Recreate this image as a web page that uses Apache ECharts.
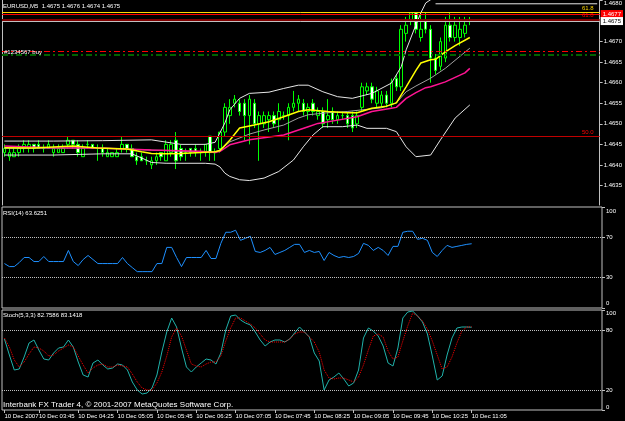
<!DOCTYPE html>
<html>
<head>
<meta charset="utf-8">
<script src="https://cdn.jsdelivr.net/npm/echarts@6/dist/echarts.min.js"></script>
<style>
html, body { margin: 0; padding: 0; background: #000; }
#chart { width: 625px; height: 421px; }
</style>
</head>
<body>
<div id="chart"></div>
<script>
"use strict";

var FONT = '"Liberation Sans", Arial, sans-serif';
var FS = 6;
var SLOTS = 122; // 96 bars + empty shift on the right

var tickIndex = [0, 7, 15, 23, 31, 39, 47, 55, 63, 71, 79, 87, 95];
var tickLabels = ['10 Dec 2007', '10 Dec 03:45', '10 Dec 04:25', '10 Dec 05:05', '10 Dec 05:45', '10 Dec 06:25',
	'10 Dec 07:05', '10 Dec 07:45', '10 Dec 08:25', '10 Dec 09:05', '10 Dec 09:45', '10 Dec 10:25', '10 Dec 11:05'];

var priceTicks = [1.4635, 1.4640, 1.4645, 1.4650, 1.4655, 1.4660, 1.4665, 1.4670, 1.4680];
var rsiTicks = [0, 30, 70, 100];
var stochTicks = [0, 20, 80, 100];

// [open, close, low, high]
var candles = [
	[1.4643, 1.4644, 1.4642, 1.4645], [1.4642, 1.4643, 1.4641, 1.4644], [1.4642, 1.4643, 1.4642, 1.4644], [1.4643, 1.4644, 1.4642, 1.4645],
	[1.4644, 1.4645, 1.4643, 1.4646], [1.4644, 1.4645, 1.4643, 1.4646], [1.4645, 1.4644, 1.4643, 1.4645], [1.4645, 1.4644, 1.4644, 1.4646],
	[1.4644, 1.4644, 1.4643, 1.4645], [1.4644, 1.4645, 1.4644, 1.4646], [1.4643, 1.4644, 1.4642, 1.4645], [1.4643, 1.4644, 1.4643, 1.4645],
	[1.4643, 1.4644, 1.4643, 1.4645], [1.4645, 1.4646, 1.4644, 1.4647], [1.4646, 1.4645, 1.4644, 1.4646], [1.4645, 1.4643, 1.4642, 1.4646],
	[1.4642, 1.4644, 1.4642, 1.4645], [1.4645, 1.4645, 1.4644, 1.4646], [1.4645, 1.4644, 1.4644, 1.4645], [1.4644, 1.4644, 1.4641, 1.4645],
	[1.4644, 1.4643, 1.4642, 1.4645], [1.4642, 1.4643, 1.4642, 1.4644], [1.4642, 1.4643, 1.4642, 1.4643], [1.4642, 1.4643, 1.4642, 1.4644],
	[1.4644, 1.4645, 1.4643, 1.4647], [1.4645, 1.4644, 1.4643, 1.4645], [1.4644, 1.4642, 1.4642, 1.4645], [1.4642, 1.4641, 1.4640, 1.4643],
	[1.4642, 1.4641, 1.4641, 1.4643], [1.4641, 1.4641, 1.4640, 1.4642], [1.4640, 1.4641, 1.4639, 1.4642], [1.4641, 1.4642, 1.4640, 1.4643],
	[1.4643, 1.4642, 1.4641, 1.4643], [1.4641, 1.4645, 1.4641, 1.4646], [1.4643, 1.4645, 1.4642, 1.4646], [1.4646, 1.4641, 1.4639, 1.4648],
	[1.4644, 1.4642, 1.4641, 1.4645], [1.4643, 1.4643, 1.4641, 1.4644], [1.4644, 1.4643, 1.4642, 1.4644], [1.4644, 1.4643, 1.4642, 1.4645],
	[1.4643, 1.4643, 1.4641, 1.4644], [1.4643, 1.4645, 1.4642, 1.4645], [1.4647, 1.4643, 1.4641, 1.4647], [1.4643, 1.4643, 1.4641, 1.4644],
	[1.4644, 1.4648, 1.4643, 1.4648], [1.4648, 1.4654, 1.4647, 1.4655], [1.4652, 1.4654, 1.4650, 1.4656], [1.4655, 1.4656, 1.4654, 1.4657],
	[1.4655, 1.4653, 1.4652, 1.4656], [1.4655, 1.4652, 1.4646, 1.4656], [1.4652, 1.4656, 1.4645, 1.4657], [1.4655, 1.4650, 1.4649, 1.4656],
	[1.4650, 1.4652, 1.4641, 1.4653], [1.4650, 1.4652, 1.4649, 1.4653], [1.4651, 1.4652, 1.4648, 1.4653], [1.4652, 1.4650, 1.4649, 1.4653],
	[1.4651, 1.4653, 1.4648, 1.4655], [1.4652, 1.4652, 1.4651, 1.4653], [1.4652, 1.4654, 1.4646, 1.4655], [1.4654, 1.4655, 1.4653, 1.4658],
	[1.4655, 1.4656, 1.4653, 1.4657], [1.4655, 1.4653, 1.4652, 1.4656], [1.4653, 1.4654, 1.4651, 1.4655], [1.4655, 1.4653, 1.4652, 1.4656],
	[1.4652, 1.4653, 1.4651, 1.4654], [1.4653, 1.4650, 1.4649, 1.4654], [1.4651, 1.4652, 1.4649, 1.4656], [1.4653, 1.4651, 1.4650, 1.4654],
	[1.4651, 1.4652, 1.4650, 1.4653], [1.4652, 1.4652, 1.4651, 1.4653], [1.4652, 1.4650, 1.4649, 1.4653], [1.4652, 1.4649, 1.4648, 1.4653],
	[1.4650, 1.4652, 1.4649, 1.4653], [1.4654, 1.4659, 1.4653, 1.4660], [1.4658, 1.4659, 1.4657, 1.4660], [1.4659, 1.4656, 1.4655, 1.4660],
	[1.4655, 1.4658, 1.4654, 1.4659], [1.4655, 1.4657, 1.4654, 1.4658], [1.4657, 1.4655, 1.4654, 1.4658], [1.4655, 1.4660, 1.4654, 1.4661],
	[1.4661, 1.4659, 1.4658, 1.4662], [1.4659, 1.4673, 1.4658, 1.4674], [1.4672, 1.4674, 1.4670, 1.4676], [1.4675, 1.4677, 1.4674, 1.4677],
	[1.4677, 1.4673, 1.4672, 1.4677], [1.4671, 1.4673, 1.4670, 1.4677], [1.4675, 1.4673, 1.4672, 1.4677], [1.4673, 1.4666, 1.4660, 1.4674],
	[1.4666, 1.4663, 1.4662, 1.4667], [1.4664, 1.4670, 1.4663, 1.4671], [1.4666, 1.4674, 1.4665, 1.4676], [1.4674, 1.4671, 1.4670, 1.4677],
	[1.4671, 1.4674, 1.4670, 1.4676], [1.4671, 1.4673, 1.4669, 1.4676], [1.4672, 1.4674, 1.4671, 1.4676], [1.4675, 1.4675, 1.4674, 1.4676]
];

// indicator readings: [bar index, price]
var maYellow = [[0, 1.46442], [6, 1.46441], [14, 1.46446], [19, 1.46441], [25, 1.46439], [28, 1.46432], [30, 1.46428], [33, 1.46427],
	[36, 1.46428], [40, 1.46430], [43, 1.46432], [44, 1.46435], [46, 1.46460], [48, 1.46490], [51, 1.46497], [54, 1.46505], [57, 1.46517],
	[60, 1.46530], [62, 1.46534], [66, 1.46530], [70, 1.46527], [72, 1.46527], [75, 1.46538], [78, 1.46543], [80, 1.46551], [82, 1.46590],
	[84, 1.46630], [85, 1.46648], [87, 1.46656], [88, 1.46657], [90, 1.46675], [92, 1.46690], [95, 1.46710]];
var maPink = [[0, 1.46446], [9, 1.46442], [19, 1.46441], [26, 1.46438], [30, 1.46436], [40, 1.46433], [43, 1.46430], [44, 1.46433],
	[46, 1.46449], [50, 1.46461], [57, 1.46473], [62, 1.46493], [64, 1.46501], [68, 1.46509], [72, 1.46517], [75, 1.46530], [79, 1.46538],
	[80, 1.46540], [82, 1.46562], [84, 1.46576], [86, 1.46588], [87, 1.46590], [90, 1.46602], [94, 1.46624], [95, 1.46635]];
var bbMid = [[0, 1.46440], [10, 1.46441], [20, 1.46441], [30, 1.46436], [40, 1.46432], [43, 1.46432], [44, 1.46436], [46, 1.46456],
	[50, 1.46475], [53, 1.46485], [57, 1.46497], [60, 1.46514], [62, 1.46522], [66, 1.46527], [70, 1.46530], [73, 1.46534], [77, 1.46539],
	[80, 1.46551], [82, 1.46578], [84, 1.46592], [87, 1.46611], [90, 1.46635], [95, 1.46684]];
var bbUpper = [[0, 1.46458], [10, 1.46458], [20, 1.46459], [30, 1.46461], [36, 1.46450], [41, 1.46450], [43, 1.46455], [45, 1.46502],
	[46, 1.46534], [48, 1.46562], [50, 1.46574], [54, 1.46577], [57, 1.46586], [60, 1.46594], [62, 1.46594], [65, 1.46578], [68, 1.46566],
	[71, 1.46562], [75, 1.46574], [79, 1.46599], [81, 1.46639], [82, 1.46680], [84, 1.46741], [85, 1.46770], [86, 1.46794], [88, 1.4681],
	[90, 1.4683], [95, 1.4684]];
var bbLower = [[0, 1.46424], [10, 1.46424], [20, 1.46427], [26, 1.46427], [28, 1.46417], [30, 1.46406], [33, 1.46404], [41, 1.46404],
	[43, 1.46402], [44, 1.46395], [45, 1.46380], [46, 1.46372], [48, 1.46364], [50, 1.46362], [53, 1.46368], [56, 1.46384], [59, 1.46412],
	[61, 1.46444], [63, 1.46473], [65, 1.46493], [69, 1.46493], [72, 1.46497], [74, 1.46489], [78, 1.46489], [80, 1.46481], [82, 1.46444],
	[84, 1.46420], [87, 1.46424], [89, 1.46461], [92, 1.46514], [95, 1.46546]];

var rsi = [44, 41, 41, 45, 50, 50, 46, 46, 51, 46, 46, 46, 46, 57, 46, 42, 48, 52, 48, 44, 44, 44, 44, 44, 50, 44, 40, 36, 36, 36,
	36, 44, 44, 60, 60, 50, 41, 50, 50, 50, 50, 57, 49, 49, 64, 75, 75, 77, 67, 69, 71, 56, 55, 57, 60, 53, 55, 57, 60, 63,
	63, 55, 57, 55, 56, 47, 55, 52, 50, 51, 50, 51, 54, 64, 62, 57, 60, 57, 52, 61, 61, 75, 76, 76, 68, 69, 67, 55, 51, 57,
	62, 60, 61, 62, 63, 63.6251];
var stochK = [71, 55, 40, 41, 53, 67, 70, 60, 51, 50, 57, 62, 63, 70, 63, 48, 35, 33, 47, 50, 45, 41, 42, 46, 45, 40, 28, 20, 16, 17,
	22, 35, 58, 78, 92, 83, 62, 43, 38, 43, 47, 51, 50, 46, 57, 80, 94, 95, 90, 87, 85, 78, 70, 64, 68, 70, 70, 68, 71, 77,
	83, 78, 73, 57, 49, 20, 30, 33, 37, 31, 24, 27, 40, 72, 82, 79, 74, 64, 47, 44, 62, 92, 98, 99, 94, 88, 76, 54, 30, 34,
	55, 72, 82, 83, 83, 82.7586];
var stochD = [72, 63, 50, 43, 48, 56, 63, 62, 59, 54, 55, 59, 62, 65, 63, 54, 45, 37, 42, 45, 46, 43, 43, 45, 44, 43, 36, 28, 22, 20,
	20, 27, 38, 54, 73, 82, 74, 60, 46, 44, 43, 46, 48, 48, 54, 69, 82, 92, 92, 89, 86, 82, 76, 70, 68, 68, 68, 68, 71, 76,
	78, 78, 73, 68, 58, 40, 32, 31, 32, 32, 30, 28, 33, 45, 60, 74, 76, 73, 59, 51, 53, 69, 84, 97, 94, 89, 81, 69, 55, 41,
	43, 53, 67, 79, 83, 83.1418];

// horizontal objects on the price panel
var levelTop = [[88, 1.46792], [121, 1.46792]];
var fibYellow = 1.46771;
var alertRed = 1.46767;
var fibDarkRed = 1.46754;
var bidPrice = 1.4675;
var orderRed = 1.46676;
var orderGreen = 1.46667;
var fib50 = 1.4647;

var categories = [];
for (var i = 0; i < SLOTS; i++) categories.push(String(i));

function lineSeries(name, data, color, width) {
	return {
		name: name, type: 'line', data: data, xAxisIndex: 0, yAxisIndex: 0,
		showSymbol: false, silent: true, z: 3,
		lineStyle: { color: color, width: width || 1 }
	};
}

function hLine(value, color, width, type, label) {
	return {
		yAxis: value,
		lineStyle: { color: color, width: width, type: type || 'solid' },
		label: label || { show: false }
	};
}

function levelLabel(text, color) {
	return { show: true, position: 'insideEndTop', distance: [6, 1], formatter: text, color: color, fontSize: FS, fontFamily: FONT };
}

function edgeRich(shiftDown, shiftUp) {
	return {
		dn: { padding: [shiftDown * 2, 0, 0, 0], color: '#ffffff', fontSize: FS, fontFamily: FONT },
		up: { padding: [0, 0, shiftUp * 2, 0], color: '#ffffff', fontSize: FS, fontFamily: FONT }
	};
}

function oscLabel(ticks, shiftDown, shiftUp) {
	return {
		customValues: ticks, margin: 4, color: '#ffffff', fontSize: FS, fontFamily: FONT,
		rich: edgeRich(shiftDown, shiftUp),
		formatter: function(v) {
			if (v === 100) return '{dn|100}';
			if (v === 0) return '{up|0}';
			return String(v);
		}
	};
}

var textBase = { color: '#ffffff', fontSize: FS, fontWeight: 'normal', fontFamily: FONT };

var chart = echarts.init(document.getElementById('chart'), null, { renderer: 'canvas' });

chart.setOption({
	backgroundColor: '#000000',
	animation: false,
	textStyle: { fontFamily: FONT },
	title: [
		{ text: 'EURUSD,M5  1.4675 1.4676 1.4674 1.4675', left: 3, top: 3, padding: 0, textStyle: textBase },
		{ text: 'RSI(14) 63.6251', left: 3, top: 210, padding: 0, textStyle: textBase },
		{ text: 'Stoch(5,3,3) 82.7586 83.1418', left: 3, top: 312, padding: 0, textStyle: textBase },
		{ text: 'Interbank FX Trader 4, \u00a9 2001-2007 MetaQuotes Software Corp.', left: 3, top: 401, padding: 0,
			textStyle: { color: '#ffffff', fontSize: 8, fontWeight: 'normal', fontFamily: FONT } }
	],
	grid: [
		{ left: 2, right: 23, top: 0, height: 205 },
		{ left: 2, right: 23, top: 207, height: 101, show: true, borderColor: '#c0c0c0', borderWidth: 1 },
		{ left: 2, right: 23, top: 310, height: 100, show: true, borderColor: '#c0c0c0', borderWidth: 1 }
	],
	xAxis: [
		{ type: 'category', gridIndex: 0, data: categories, show: false },
		{ type: 'category', gridIndex: 1, data: categories, show: false },
		{
			type: 'category', gridIndex: 2, data: categories,
			axisLine: { show: false },
			axisTick: {
				show: true, length: 3, alignWithLabel: true,
				interval: function(index) { return tickIndex.indexOf(index) >= 0; },
				lineStyle: { color: '#c0c0c0' }
			},
			axisLabel: {
				interval: function(index) { return tickIndex.indexOf(index) >= 0; },
				formatter: function(value) { return tickLabels[tickIndex.indexOf(Number(value))] || ''; },
				showMinLabel: true, showMaxLabel: true, hideOverlap: false,
				align: 'left', margin: 3, color: '#ffffff', fontSize: FS, fontFamily: FONT
			},
			splitLine: { show: false }
		}
	],
	yAxis: [
		{
			type: 'value', gridIndex: 0, position: 'right', min: 1.463025, max: 1.468009,
			axisLine: { show: true, lineStyle: { color: '#c0c0c0' } },
			axisTick: { show: true, length: 3, customValues: priceTicks, lineStyle: { color: '#c0c0c0' } },
			axisLabel: {
				customValues: priceTicks, margin: 4, color: '#ffffff', fontSize: FS, fontFamily: FONT,
				showMinLabel: true, showMaxLabel: true,
				rich: edgeRich(2.5, 0),
				formatter: function(v) { return v > 1.4679 ? '{dn|' + v.toFixed(4) + '}' : v.toFixed(4); }
			},
			splitLine: { show: false }
		},
		{
			type: 'value', gridIndex: 0, position: 'left', min: 1.463025, max: 1.468009,
			axisLine: { show: true, lineStyle: { color: '#c0c0c0' } },
			axisTick: { show: false }, axisLabel: { show: false }, splitLine: { show: false }
		},
		{
			type: 'value', gridIndex: 1, position: 'right', min: 0, max: 100,
			axisLine: { show: false },
			axisTick: { show: true, length: 3, customValues: rsiTicks, lineStyle: { color: '#c0c0c0' } },
			axisLabel: oscLabel(rsiTicks, 4, 4.5),
			splitLine: { show: false }
		},
		{
			type: 'value', gridIndex: 2, position: 'right', min: 0, max: 100,
			axisLine: { show: false },
			axisTick: { show: true, length: 3, customValues: stochTicks, lineStyle: { color: '#c0c0c0' } },
			axisLabel: oscLabel(stochTicks, 3, 3),
			splitLine: { show: false }
		}
	],
	series: [
		{
			name: 'EURUSD', type: 'candlestick', data: candles, xAxisIndex: 0, yAxisIndex: 0,
			barWidth: 3, silent: true, z: 2,
			itemStyle: { color: '#000000', color0: '#ffffff', borderColor: '#00ff00', borderColor0: '#00ff00', borderWidth: 1 }
		},
		lineSeries('Level top', levelTop, '#e6e6e6'),
		lineSeries('BB upper', bbUpper, '#e6e6e6'),
		lineSeries('BB lower', bbLower, '#e6e6e6'),
		(function() {
			var s = lineSeries('BB middle', bbMid, '#a0a0a0');
			s.markLine = {
				silent: true, symbol: 'none', animation: false, precision: 6,
				lineStyle: { type: 'solid' },
				data: [
					hLine(fibYellow, '#ffd700', 1, 'solid', levelLabel('61.8', '#ffd700')),
					hLine(alertRed, '#ff0000', 1, 'solid', { show: true, position: 'end', distance: 1, formatter: '1.4677', color: '#ffffff', backgroundColor: '#ff0000', padding: [1, 2], fontSize: FS, fontFamily: FONT }),
					hLine(fibDarkRed, '#800000', 2, 'solid', levelLabel('61.8', '#ff0000')),
					hLine(bidPrice, '#c0c0c0', 1, 'solid', { show: true, position: 'end', distance: 1, formatter: '1.4675', color: '#000000', backgroundColor: '#ffffff', padding: [1, 2], fontSize: FS, fontFamily: FONT }),
					hLine(orderRed, '#ff0000', 1, [6, 3, 2, 3], { show: true, position: 'insideStartTop', distance: [2, -4], formatter: '#1234567 buy', color: '#ffffff', fontSize: FS, fontFamily: FONT }),
					hLine(orderGreen, '#006400', 2, [6, 3, 2, 3]),
					hLine(fib50, '#c00000', 1, 'solid', levelLabel('50.0', '#ff0000'))
				]
			};
			return s;
		})(),
		lineSeries('MA pink', maPink, '#ff1493', 1.5),
		lineSeries('MA yellow', maYellow, '#ffff00', 1.5),
		{
			name: 'RSI', type: 'line', data: rsi, xAxisIndex: 1, yAxisIndex: 2,
			showSymbol: false, silent: true,
			lineStyle: { color: '#1e90ff', width: 1 },
			markLine: {
				silent: true, symbol: 'none', animation: false, label: { show: false },
				lineStyle: { color: '#c0c0c0', type: 'dotted', width: 1 },
				data: [{ yAxis: 70 }, { yAxis: 30 }]
			}
		},
		{
			name: 'Stoch main', type: 'line', data: stochK, xAxisIndex: 2, yAxisIndex: 3,
			showSymbol: false, silent: true,
			lineStyle: { color: '#20b2aa', width: 1 },
			markLine: {
				silent: true, symbol: 'none', animation: false, label: { show: false },
				lineStyle: { color: '#c0c0c0', type: 'dotted', width: 1 },
				data: [{ yAxis: 80 }, { yAxis: 20 }]
			}
		},
		{
			name: 'Stoch signal', type: 'line', data: stochD, xAxisIndex: 2, yAxisIndex: 3,
			showSymbol: false, silent: true,
			lineStyle: { color: '#ff0000', width: 1, type: 'dotted' }
		}
	]
});
</script>
</body>
</html>
